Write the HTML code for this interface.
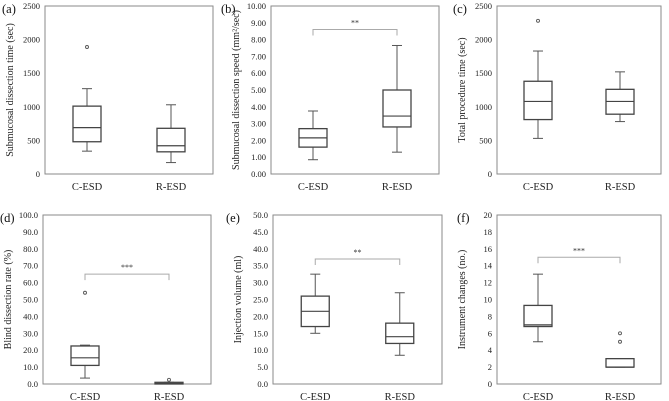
<!DOCTYPE html>
<html><head><meta charset="utf-8"><style>
body{margin:0;background:#fff}
svg{display:block}
text{font-family:"Liberation Serif","DejaVu Serif",serif}
</style></head><body>
<svg id="c" width="669" height="401" viewBox="0 0 669 401"></svg>
<script>
const categories=["C-ESD","R-ESD"];
const panelLabels=["(a)","(b)","(c)","(d)","(e)","(f)"];
const yTitles=["Submucosal dissection time (sec)","Submucosal dissection speed (mm²/sec)","Total procedure time (sec)","Blind dissection rate (%)","Injection volume (ml)","Instrument changes (no.)"];
const yMax=[2500,10,2500,100,50,20];
const yStep=[500,1,500,10,5,2];
const yDec=[0,2,0,1,1,0];
// [min,q1,median,q3,max] per group
const statsA=[[340,480,690,1010,1270],[170,330,420,680,1030]];
const statsB=[[0.85,1.6,2.15,2.7,3.75],[1.3,2.8,3.45,5.0,7.65]];
const statsC=[[530,810,1080,1380,1830],[780,890,1080,1260,1520]];
const statsD=[[3.5,11,15.5,22.5,23],[0,0,0.3,1,1]];
const statsE=[[15,17,21.5,26,32.5],[8.5,12,14,18,27]];
const statsF=[[5,6.8,7,9.3,13],[2,2,2,3,3]];
const outliers=[[[1890],[]],[[],[]],[[2280],[]],[[54],[2.5]],[[],[]],[[],[5,6]]];
const sigLevel=[null,8.6,null,65,37,15];
const sigText=["","**","","***","**","***"];
const allStats=[statsA,statsB,statsC,statsD,statsE,statsF];
const frames=[[45,6,213,174],[271,6,439,174],[497,6,661,174],[43,215,211,384],[273,215,442,384],[497,215,661,384]];
const labelOff=[43,50,44,43,47,40];
const NS="http://www.w3.org/2000/svg";
const svg=document.getElementById('c');
function mk(t,a,txt){const e=document.createElementNS(NS,t);for(const k in a)e.setAttribute(k,a[k]);if(txt!==undefined)e.textContent=txt;svg.appendChild(e);return e;}
allStats.forEach((st,p)=>{
  const [L,T,R,B]=frames[p];
  const y=v=>B-(v/yMax[p])*(B-T);
  const x=i=>L+(R-L)*(0.25+0.5*i);
  let e=mk('rect',{x:L,y:T,width:R-L,height:B-T,fill:'none',stroke:'#8a8a8a','stroke-width':1});
  
  
  e=mk('text',{x:L-labelOff[p],y:T+7,'font-size':12.5,fill:'#111'},panelLabels[p]);
  
  
  for(let v=0;v<=yMax[p]+1e-9;v+=yStep[p]){
    e=mk('text',{x:L-5,y:y(v)+3,'font-size':8.5,'text-anchor':'end',fill:'#222'},v.toFixed(yDec[p]));
    
    
  }
  const ty=(T+B)/2, tx=L-32;
  e=mk('text',{x:tx,y:ty,'font-size':10,'text-anchor':'middle',fill:'#222',transform:`rotate(-90 ${tx} ${ty})`},yTitles[p]);
  
  
  categories.forEach((c,i)=>{
    const cx=x(i),s=st[i],hw=14;
    e=mk('text',{x:cx,y:B+16,'font-size':10.5,'text-anchor':'middle',fill:'#222'},c);
    
    
    e=mk('line',{x1:cx,x2:cx,y1:y(s[0]),y2:y(s[4]),stroke:'#555','stroke-width':1});
    
    
    [s[0],s[4]].forEach(v=>{e=mk('line',{x1:cx-5,x2:cx+5,y1:y(v),y2:y(v),stroke:'#555','stroke-width':1});
      
      });
    e=mk('rect',{x:cx-hw,y:y(s[3]),width:2*hw,height:Math.max(1,y(s[1])-y(s[3])),fill:'#fff',stroke:'#444','stroke-width':1.3});
    
    
    e=mk('line',{x1:cx-hw,x2:cx+hw,y1:y(s[2]),y2:y(s[2]),stroke:'#444','stroke-width':1.2});
    
    
    outliers[p][i].forEach(v=>{e=mk('circle',{cx:cx,cy:y(v),r:1.5,fill:'none',stroke:'#555','stroke-width':0.9});
      
      });
  });
  if(sigLevel[p]!==null){
    const sy=y(sigLevel[p]);
    e=mk('path',{d:`M${x(0)} ${sy+6}V${sy}H${x(1)}V${sy+6}`,fill:'none',stroke:'#aaa','stroke-width':1});
    
    
    e=mk('text',{x:(x(0)+x(1))/2,y:sy-4,'font-size':8,'text-anchor':'middle',fill:'#333'},sigText[p]);
    
    
  }
});
</script>
</body></html>
